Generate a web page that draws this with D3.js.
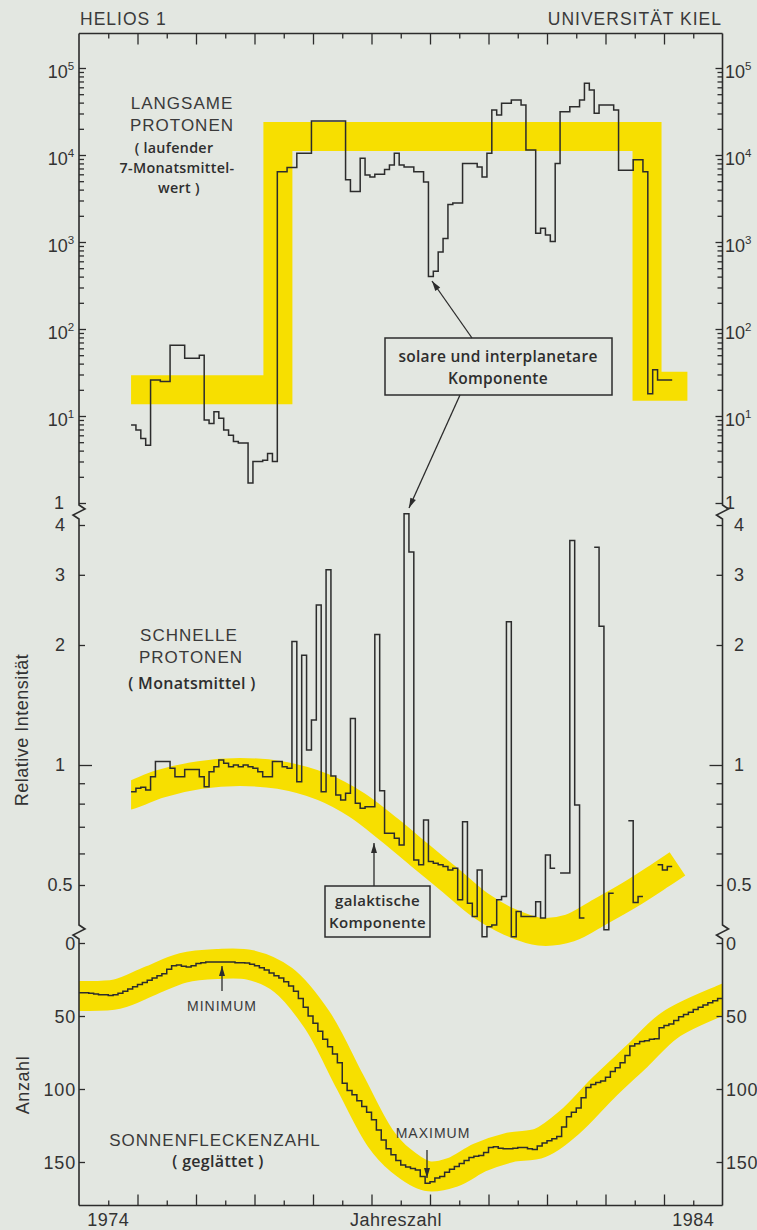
<!DOCTYPE html>
<html>
<head>
<meta charset="utf-8">
<script src="https://cdn.jsdelivr.net/npm/d3@7"></script>
<style>
  html, body { margin: 0; padding: 0; background: #e3e7e1; }
  svg { display: block; }
  .caps { font-family: "Liberation Sans", Arial, sans-serif; fill: #3a3a3a; letter-spacing: 1px; }
  .tech { font-family: "Open Sans", "DejaVu Sans", sans-serif; font-weight: 600; fill: #2e2e2e; letter-spacing: 0.3px; }
  .tick-label { font-family: "Liberation Sans", Arial, sans-serif; fill: #333; font-size: 18px; }
</style>
</head>
<body>
<svg id="chart" width="757" height="1230"></svg>
<script>
// ---------------------------------------------------------------
// Data
// ---------------------------------------------------------------

// Monthly series of the spacecraft measurements begin here (decimal year)
const fluxStart = 1974.89;

// Slow protons: running 7-month mean (relative intensity, log scale)
const slowProtons = [
  7.9, 6.9, 5.5, 4.6, 26, 26, 25, 25, 65, 65, 65, 46, 46, 46, 50,
  9.0, 8.2, 11.2, 9.4, 6.9, 6.0, 5.1, 4.9, 4.9, 1.7, 3.0, 3.0, 3.1, 3.7, 3.0,
  6400, 6400, 7200, 7200, 10500, 10500, 10500,
  24600, 24600, 24600, 24600, 24600, 24600, 24600,
  5200, 3800, 3800, 9200, 5900, 5600, 6000, 6000, 6800, 7700, 10500, 7700,
  7300, 7300, 6400, 6400, 4900, 400, 460, 770, 1100, 2700, 2800, 2800,
  8000, 8000, 8000, 7300, 5600, 10500, 32900, 28800, 39300, 39300,
  42900, 42900, 37600, 11400, 11400, 1260, 1440, 1200, 1010, 8000,
  31500, 31500, 35900, 35900, 42900, 66700, 55800, 30100,
  37600, 37600, 37600, 32900, 6700, 6700, 6700, 8800, 8800, 6400,
  18, 34, 26, 26, 26
];

// Fast protons: monthly means (relative intensity, log scale); null = no data
const fastProtons = [
  0.857, 0.874, 0.879, 0.866, 0.935, 1.02, 1.02, 1.02, 0.981, 0.935,
  0.935, 0.975, 0.975, 0.975, 0.935, 0.882, 0.962, 0.99, 1.03, 1.01,
  0.99, 1.0, 0.99, 1.0, 0.99, 0.981, 0.962, 0.935, 0.935, 1.02,
  1.02, 0.99, 0.981, 2.04, 0.908, 1.886, 1.09, 1.297, 2.52, 0.857,
  3.09, 0.938, 0.841, 0.817, 0.849, 1.309, 0.802, 0.779, 0.786, 0.786,
  2.125, 0.862, 0.674, 0.674, 0.655, 0.630, 4.27, 3.42, 0.578, 0.562,
  0.728, 0.573, 0.567, 0.562, 0.556, 0.545, 0.551, 0.459, 0.721, 0.450,
  0.417, 0.545, 0.371, 0.393, 0.397, 0.459, 0.468, 2.286, 0.371, 0.429,
  0.417, 0.417, 0.417, 0.454, 0.413, 0.595, 0.551, null, 0.536, 0.536,
  3.66, 0.794, 0.413, null, null, 3.52, 2.23, 0.386, 0.477, null,
  null, null, 0.725, 0.452, 0.468, null, null, null, 0.562, 0.545, 0.556
];

// Smoothed sunspot number, monthly from January 1974
const sunspotStart = 1974.0;
const sunspots = [
  34, 34, 34.5, 35, 35.5, 35.5, 36, 35.5, 34.5, 33, 31.5, 30,
  28.5, 27, 25.5, 24, 22.5, 21, 18, 15.5, 15, 16, 16.5, 15.5,
  14, 13.5, 13, 13, 13, 13, 13, 13, 13.5, 13.5, 13.7, 14.5,
  15.5, 17, 18.5, 20.5, 22.5, 24, 26.5, 29.5, 33, 38, 44, 50,
  55, 60.5, 66, 71, 76, 82, 96, 101, 104, 108, 112, 116,
  121, 128, 135, 141, 145, 149, 152, 153.5, 154.5, 155.5, 160, 164.5,
  163.5, 161, 160, 157, 155, 153, 151, 149, 147, 146, 145.5, 143.5,
  140, 139.5, 140.5, 141, 141, 140.5, 140, 140, 141, 141.5, 139, 137,
  135.5, 134, 132.5, 126, 119, 116, 113, 106, 99, 97, 95.5, 94.5,
  92, 88, 85.5, 82, 77, 70.5, 69, 67.5, 67, 66, 65.5, 58,
  56.5, 55.5, 53, 50.5, 49, 47.5, 45.5, 44, 42.5, 41, 39.5, 38
];

// Background level of the slow protons (step band): change years and levels
const slowBandYears = [1974.89, 1977.40, 1983.71, 1984.40];
const slowBandLevels = [20, 16300, 22, 22];

// Galactic component of the fast protons (smooth band)
const galacticYears = [1974.6, 1974.89, 1975.38, 1976.07, 1976.75, 1977.43, 1978.17, 1978.75,
  1979.31, 1979.82, 1980.34, 1980.85, 1981.36, 1981.87, 1982.39, 1982.90,
  1983.41, 1983.92, 1984.23];
const galacticValues = [0.825, 0.841, 0.896, 0.944, 0.960, 0.944, 0.881, 0.794,
  0.687, 0.595, 0.515, 0.446, 0.404, 0.382, 0.390, 0.428,
  0.472, 0.527, 0.565];

// Sunspot cycle trend (smooth band)
const cycleYears = [1973.8, 1974.0, 1974.65, 1975.21, 1975.78, 1976.36, 1976.92, 1977.49,
  1978.07, 1978.63, 1979.15, 1979.49, 1979.95, 1980.39, 1980.85, 1981.37,
  1981.88, 1982.39, 1982.96, 1983.54, 1984.10, 1984.99, 1985.3];
const cycleValues = [36.5, 36.3, 35, 26, 17, 14.4, 15, 25.3,
  52.7, 95, 133.6, 148.6, 159.6, 157, 147, 140,
  137, 122.6, 99.3, 77.4, 56.2, 39, 34];

// Tick values
const slowTickDecades = [1, 10, 100, 1000, 10000, 100000];
const slowTickExponents = [null, 1, 2, 3, 4, 5];
const fastTickLabels = [0.5, 1, 2, 3, 4];
const fastMinorTicks = [0.6, 0.7, 0.8, 0.9];
const spotTickLabels = [0, 50, 100, 150];
const yearLabels = [1974, 1984];

// ---------------------------------------------------------------
// Layout and scales
// ---------------------------------------------------------------
const INK = "#2c2c2c";
const YELLOW = "#f7df00";
const xL = 79, xR = 722.5, yTop = 33.5, yBot = 1205.5;
const breaks = [513, 933];

const x = d3.scaleLinear().domain([1974, 1985]).range([xL, xR]);
const ySlow = d3.scaleLog().domain([1, 1e5]).range([503, 68]);
const yFast = d3.scaleLog().domain([0.5, 4]).range([885, 525]);
const ySpot = d3.scaleLinear().domain([0, 150]).range([943, 1162]);

const svg = d3.select("#chart");
const defs = svg.append("defs");

defs.append("clipPath").attr("id", "plotClip")
  .append("rect").attr("x", xL).attr("y", yTop).attr("width", xR - xL).attr("height", yBot - yTop);

// the galactic band starts squarely with the first month of data
defs.append("clipPath").attr("id", "fluxClip")
  .append("rect").attr("x", x(fluxStart)).attr("y", yTop).attr("width", xR - x(fluxStart)).attr("height", yBot - yTop);

// ---------------------------------------------------------------
// Yellow bands
// ---------------------------------------------------------------
const bands = svg.append("g");

bands.append("path")
  .datum(slowBandYears.map((t, i) => [t, slowBandLevels[i]]))
  .attr("d", d3.line().x(d => x(d[0])).y(d => ySlow(d[1])).curve(d3.curveStepAfter))
  .attr("fill", "none").attr("stroke", YELLOW).attr("stroke-width", 29)
  .attr("stroke-linejoin", "miter").attr("stroke-linecap", "butt");

bands.append("path")
  .datum(galacticYears.map((t, i) => [t, galacticValues[i]]))
  .attr("clip-path", "url(#fluxClip)")
  .attr("d", d3.line().x(d => x(d[0])).y(d => yFast(d[1])).curve(d3.curveCatmullRom.alpha(0.5)))
  .attr("fill", "none").attr("stroke", YELLOW).attr("stroke-width", 28)
  .attr("stroke-linecap", "butt");

bands.append("path")
  .datum(cycleYears.map((t, i) => [t, cycleValues[i]]))
  .attr("clip-path", "url(#plotClip)")
  .attr("d", d3.line().x(d => x(d[0])).y(d => ySpot(d[1])).curve(d3.curveCatmullRom.alpha(0.5)))
  .attr("fill", "none").attr("stroke", YELLOW).attr("stroke-width", 30)
  .attr("stroke-linecap", "butt");

// ---------------------------------------------------------------
// Monthly step lines
// ---------------------------------------------------------------
function stepPoints(start, values) {
  const pts = [];
  values.forEach((v, i) => {
    const t0 = start + i / 12, t1 = start + (i + 1) / 12;
    if (v == null) { pts.push({ t: t0, v: null }); return; }
    pts.push({ t: t0, v }, { t: t1, v });
  });
  return pts;
}

function drawSteps(values, start, yScale) {
  const line = d3.line()
    .defined(d => d.v != null)
    .x(d => x(d.t))
    .y(d => yScale(d.v));
  svg.append("path")
    .datum(stepPoints(start, values))
    .attr("d", line)
    .attr("fill", "none")
    .attr("stroke", INK)
    .attr("stroke-width", 1.5)
    .attr("stroke-linejoin", "miter");
}

drawSteps(slowProtons, fluxStart, ySlow);
drawSteps(fastProtons, fluxStart, yFast);
drawSteps(sunspots, sunspotStart, ySpot);

// ---------------------------------------------------------------
// Frame with axis breaks
// ---------------------------------------------------------------
const frame = svg.append("g").attr("fill", "none").attr("stroke", INK).attr("stroke-width", 1.6);

function verticalAxisPath(xa) {
  const p = d3.path();
  p.moveTo(xa, yTop);
  breaks.forEach(b => {
    p.lineTo(xa, b - 8);
    p.lineTo(xa + 6, b - 4);
    p.lineTo(xa - 6, b + 2);
    p.lineTo(xa, b + 6);
  });
  p.lineTo(xa, yBot);
  return p.toString();
}
frame.append("path").attr("d", verticalAxisPath(xL));
frame.append("path").attr("d", verticalAxisPath(xR));
frame.append("line").attr("x1", xL).attr("x2", xR).attr("y1", yTop).attr("y2", yTop);
frame.append("line").attr("x1", xL).attr("x2", xR).attr("y1", yBot).attr("y2", yBot);

// ---------------------------------------------------------------
// Ticks (drawn with d3 axes, pointing into the plot)
// ---------------------------------------------------------------
function addAxis(axis, tx, ty) {
  const g = svg.append("g").attr("transform", `translate(${tx},${ty})`).call(axis);
  g.select(".domain").remove();
  g.selectAll(".tick line").attr("stroke", INK).attr("stroke-width", 1.3);
  g.selectAll(".tick text").remove();
  return g;
}

const slowMinor = [];
slowTickDecades.slice(0, -1).forEach(d => { for (let m = 2; m <= 9; m++) slowMinor.push(d * m); });

[[d3.axisLeft, xL], [d3.axisRight, xR]].forEach(([ax, xa]) => {
  addAxis(ax(ySlow).tickValues(slowTickDecades).tickSize(-7), xa, 0);
  addAxis(ax(ySlow).tickValues(slowMinor).tickSize(-5), xa, 0);
  addAxis(ax(yFast).tickValues(fastTickLabels.filter(v => v !== 1)).tickSize(-6), xa, 0);
  addAxis(ax(yFast).tickValues([1]).tickSize(-13), xa, 0);
  addAxis(ax(yFast).tickValues(fastMinorTicks).tickSize(-6), xa, 0);
  addAxis(ax(ySpot).tickValues(spotTickLabels).tickSize(-6), xa, 0);
});

const majorYears = d3.range(1975, 1985);
const halfYears = d3.range(1974, 1985).map(y => y + 0.5);
[[d3.axisTop, yTop], [d3.axisBottom, yBot]].forEach(([ax, ya]) => {
  addAxis(ax(x).tickValues(majorYears).tickSize(-11), 0, ya);
  addAxis(ax(x).tickValues(halfYears).tickSize(-5), 0, ya);
});

// ---------------------------------------------------------------
// Tick labels
// ---------------------------------------------------------------
const labels = svg.append("g");

function powerLabel(cx, v, i, anchor) {
  const y0 = ySlow(v);
  const exp = slowTickExponents[i];
  if (exp == null) {
    labels.append("text").attr("class", "tick-label")
      .attr("x", cx).attr("y", y0 + 6).attr("text-anchor", anchor).text("1");
    return;
  }
  const t = labels.append("text").attr("class", "tick-label")
    .attr("x", cx).attr("y", y0 + 10).attr("text-anchor", anchor);
  t.append("tspan").text("10");
  t.append("tspan").attr("dy", -8).attr("font-size", 11.5).text(exp);
}
slowTickDecades.forEach((v, i) => {
  powerLabel(v === 1 ? 59 : 61, v, i, "middle");
  powerLabel(725, v, i, "start");
});

fastTickLabels.forEach(v => {
  const txt = v === 0.5 ? "0.5" : String(v);
  labels.append("text").attr("class", "tick-label").attr("x", 60).attr("y", yFast(v) + 6)
    .attr("text-anchor", "middle").text(txt);
  labels.append("text").attr("class", "tick-label").attr("x", 739).attr("y", yFast(v) + 6)
    .attr("text-anchor", "middle").text(txt);
});

spotTickLabels.forEach(v => {
  labels.append("text").attr("class", "tick-label").attr("x", 76).attr("y", ySpot(v) + 7)
    .attr("text-anchor", "end").attr("letter-spacing", 0.8).text(v);
  labels.append("text").attr("class", "tick-label").attr("x", 726).attr("y", ySpot(v) + 7)
    .attr("text-anchor", "start").attr("letter-spacing", 0.8).text(v);
});

yearLabels.forEach(yr => {
  labels.append("text").attr("class", "tick-label").attr("x", x(yr + 0.5)).attr("y", 1226)
    .attr("text-anchor", "middle").attr("letter-spacing", 0.5).text(yr);
});
labels.append("text").attr("class", "tick-label").attr("x", 396).attr("y", 1226)
  .attr("text-anchor", "middle").attr("letter-spacing", 0.5).text("Jahreszahl");

labels.append("text").attr("class", "tick-label")
  .attr("transform", "translate(28,730) rotate(-90)").attr("text-anchor", "middle")
  .attr("letter-spacing", 0.5).text("Relative Intensität");
labels.append("text").attr("class", "tick-label")
  .attr("transform", "translate(29,1085) rotate(-90)").attr("text-anchor", "middle")
  .attr("letter-spacing", 0.6).text("Anzahl");

// Header
labels.append("text").attr("class", "caps").attr("x", 80).attr("y", 25)
  .attr("font-size", 17.5).text("HELIOS 1");
labels.append("text").attr("class", "caps").attr("x", 722).attr("y", 25)
  .attr("font-size", 17.5).attr("text-anchor", "end").text("UNIVERSITÄT KIEL");

// ---------------------------------------------------------------
// Panel titles
// ---------------------------------------------------------------
function caps(txt, cx, y, size) {
  labels.append("text").attr("class", "caps").attr("x", cx).attr("y", y)
    .attr("font-size", size).attr("text-anchor", "middle").text(txt);
}
function tech(txt, cx, y, size, spacing) {
  const t = labels.append("text").attr("class", "tech").attr("x", cx).attr("y", y)
    .attr("font-size", size).attr("text-anchor", "middle").text(txt);
  if (spacing != null) t.attr("letter-spacing", spacing);
}

caps("LANGSAME", 182, 109, 17);
caps("PROTONEN", 182, 131, 17);
tech("( laufender", 174, 153, 14.3, 0.9);
tech("7-Monatsmittel-", 177, 173, 14.3, 0.9);
tech("wert )", 179, 193, 14.3, 0.9);

caps("SCHNELLE", 189, 641, 17);
caps("PROTONEN", 191, 663, 17);
tech("( Monatsmittel )", 192, 689, 16);

caps("SONNENFLECKENZAHL", 215, 1146, 17);
tech("( geglättet )", 218, 1167, 16);

caps("MINIMUM", 222, 1011, 14);
caps("MAXIMUM", 433, 1138, 14);

// ---------------------------------------------------------------
// Annotation boxes and arrows
// ---------------------------------------------------------------
const notes = svg.append("g");

function arrow(x1, y1, x2, y2) {
  notes.append("line").attr("x1", x1).attr("y1", y1).attr("x2", x2).attr("y2", y2)
    .attr("stroke", INK).attr("stroke-width", 1.3);
  const a = Math.atan2(y2 - y1, x2 - x1), L = 10, W = 3;
  const bx = x2 - L * Math.cos(a), by = y2 - L * Math.sin(a);
  const px = -Math.sin(a) * W, py = Math.cos(a) * W;
  notes.append("path")
    .attr("d", `M${x2},${y2}L${bx + px},${by + py}L${bx - px},${by - py}Z`)
    .attr("fill", INK);
}

notes.append("rect").attr("x", 385).attr("y", 338).attr("width", 227).attr("height", 57)
  .attr("fill", "none").attr("stroke", INK).attr("stroke-width", 1.5);
tech("solare und interplanetare", 498, 362, 15.5, 0.5);
tech("Komponente", 498, 384, 15.5, 0.5);
arrow(472, 338, 432, 281);
arrow(460, 395, 409, 508);

notes.append("rect").attr("x", 325).attr("y", 886).attr("width", 105).attr("height", 51)
  .attr("fill", "none").attr("stroke", INK).attr("stroke-width", 1.5);
tech("galaktische", 377.5, 906, 15);
tech("Komponente", 377.5, 928, 15);
arrow(374, 886, 374, 843);

arrow(222, 991, 222, 966);
arrow(427, 1150, 427, 1178);
</script>
</body>
</html>
